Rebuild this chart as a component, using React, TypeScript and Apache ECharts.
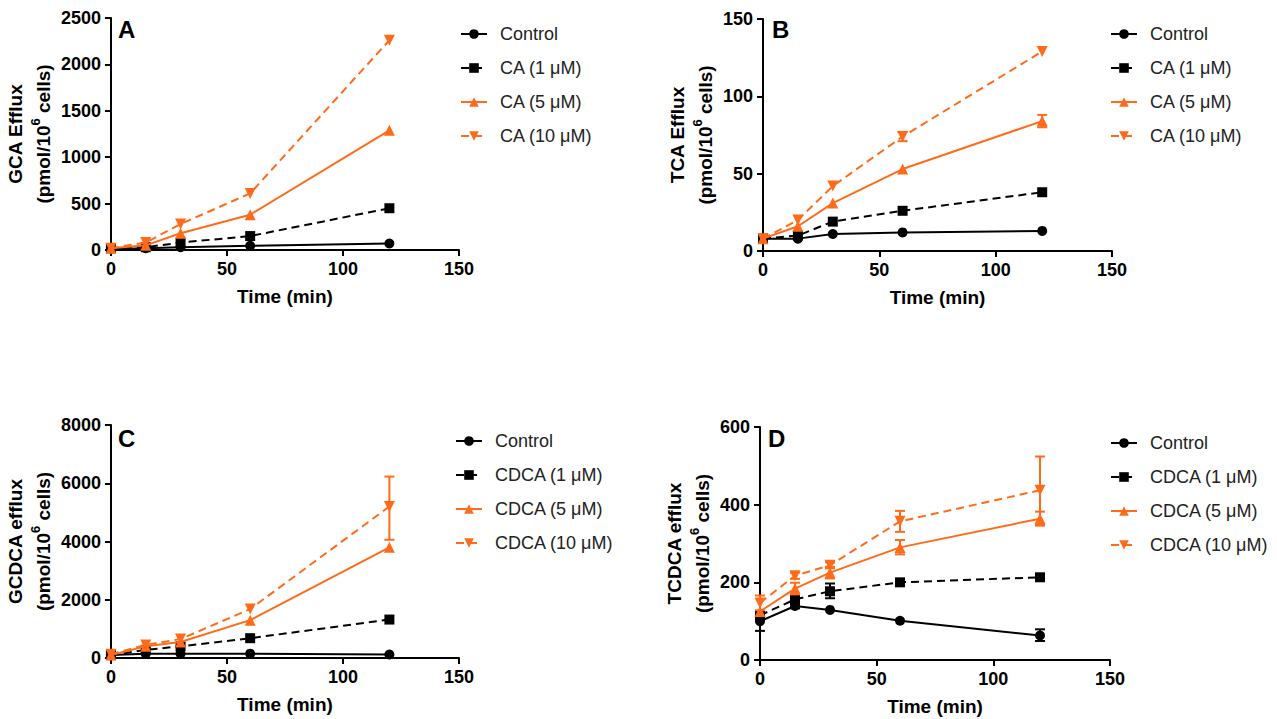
import React, { useEffect, useRef } from "react";
import * as echarts from "echarts";

const times = [0, 15, 30, 60, 120];
const xTicks = [0, 50, 100, 150];

// Panel A: GCA efflux
const gcaControl = [15, 20, 30, 45, 70];
const gcaCA1 = [20, 30, 80, 150, 450];
const gcaCA5 = [20, 50, 180, 380, 1290];
const gcaCA10 = [20, 80, 280, 610, 2260];

// Panel B: TCA efflux
const tcaControl = [8, 8, 11, 12, 13];
const tcaCA1 = [8, 10, 19, 26, 38];
const tcaCA5 = [8, 16, 31, 53, 84];
const tcaCA10 = [8, 20, 42, 74, 129];
const tcaErrCA5 = [[120, 80, 88]];
const tcaErrCA10 = [[60, 71, 77]];

// Panel C: GCDCA efflux
const gcdcaControl = [100, 150, 150, 150, 120];
const gcdcaCDCA1 = [100, 280, 400, 680, 1320];
const gcdcaCDCA5 = [100, 400, 550, 1300, 3800];
const gcdcaCDCA10 = [130, 450, 650, 1680, 5200];
const gcdcaErrCDCA10 = [[120, 4060, 6230]];

// Panel D: TCDCA efflux
const tcdcaControl = [100, 139, 129, 101, 63];
const tcdcaCDCA1 = [115, 156, 177, 200, 213];
const tcdcaCDCA5 = [125, 184, 225, 290, 364];
const tcdcaCDCA10 = [147, 217, 244, 357, 437];
const tcdcaErrControl = [[0, 75, 125], [15, 133, 145], [120, 49, 79]];
const tcdcaErrCDCA1 = [[0, 105, 125], [15, 148, 164], [30, 159, 197]];
const tcdcaErrCDCA5 = [[15, 169, 199], [30, 210, 240], [60, 272, 309], [120, 346, 382]];
const tcdcaErrCDCA10 = [[0, 128, 166], [15, 209, 225], [30, 236, 252], [60, 330, 384], [120, 350, 524]];

const caNames = ["Control", "CA (1 μM)", "CA (5 μM)", "CA (10 μM)"];
const cdcaNames = ["Control", "CDCA (1 μM)", "CDCA (5 μM)", "CDCA (10 μM)"];

const BLACK = "#000000";
const ORANGE = "#FF6B1A";
const FONT = "'Liberation Sans', Arial, sans-serif";

const styles = [
  { color: BLACK, symbol: "circle", rotate: 0, size: 10, dash: "solid" as any },
  { color: BLACK, symbol: "rect", rotate: 0, size: 10, dash: [8, 5] as any },
  { color: ORANGE, symbol: "triangle", rotate: 0, size: 11, dash: "solid" as any },
  { color: ORANGE, symbol: "triangle", rotate: 180, size: 11, dash: [8, 5] as any },
];

const panels = [
  {
    letter: "A", grid: { left: 110, top: 18, width: 349, height: 232 },
    yMax: 2500, yInt: 500, yName: "GCA Efflux", yGap: 47,
    names: caNames, series: [gcaControl, gcaCA1, gcaCA5, gcaCA10], errors: [[], [], [], []],
    legend: { left: 455, top: 24 }, letterPos: { x: 118, y: 17 },
  },
  {
    letter: "B", grid: { left: 763, top: 19, width: 349, height: 232 },
    yMax: 150, yInt: 50, yName: "TCA Efflux", yGap: 35,
    names: caNames, series: [tcaControl, tcaCA1, tcaCA5, tcaCA10], errors: [[], [], tcaErrCA5, tcaErrCA10],
    legend: { left: 1105, top: 24 }, letterPos: { x: 772, y: 17 },
  },
  {
    letter: "C", grid: { left: 110, top: 425, width: 349, height: 233 },
    yMax: 8000, yInt: 2000, yName: "GCDCA efflux", yGap: 47,
    names: cdcaNames, series: [gcdcaControl, gcdcaCDCA1, gcdcaCDCA5, gcdcaCDCA10], errors: [[], [], [], gcdcaErrCDCA10],
    legend: { left: 450, top: 431 }, letterPos: { x: 118, y: 426 },
  },
  {
    letter: "D", grid: { left: 760, top: 427, width: 350, height: 233 },
    yMax: 600, yInt: 200, yName: "TCDCA efflux", yGap: 34,
    names: cdcaNames, series: [tcdcaControl, tcdcaCDCA1, tcdcaCDCA5, tcdcaCDCA10],
    errors: [tcdcaErrControl, tcdcaErrCDCA1, tcdcaErrCDCA5, tcdcaErrCDCA10],
    legend: { left: 1105, top: 433 }, letterPos: { x: 768, y: 426 },
  },
];

function buildOption() {
  const grid: any[] = [];
  const xAxis: any[] = [];
  const yAxis: any[] = [];
  const legend: any[] = [];
  const series: any[] = [];
  const graphic: any[] = [];

  const axisCommon = {
    axisLine: { show: true, onZero: false, lineStyle: { color: BLACK, width: 2 } },
    axisTick: { show: true, inside: false, length: 6, lineStyle: { color: BLACK, width: 2 } },
    splitLine: { show: false },
  };
  const plain = (v: number) => String(v);

  panels.forEach((p, i) => {
    grid.push({ ...p.grid, containLabel: false });
    xAxis.push({
      type: "value", gridIndex: i, min: xTicks[0], max: xTicks[xTicks.length - 1], interval: 50,
      ...axisCommon,
      axisLabel: { color: BLACK, fontFamily: FONT, fontWeight: "bold", fontSize: 18, margin: 10, formatter: plain },
      name: "Time (min)", nameLocation: "middle", nameGap: 37,
      nameTextStyle: { color: BLACK, fontFamily: FONT, fontWeight: "bold", fontSize: 19 },
    });
    yAxis.push({
      type: "value", gridIndex: i, min: 0, max: p.yMax, interval: p.yInt,
      ...axisCommon,
      axisLabel: { color: BLACK, fontFamily: FONT, fontWeight: "bold", fontSize: 18, margin: 10, formatter: plain },
      name: p.yName + "\n(pmol/10{sup|6} cells)", nameLocation: "middle", nameRotate: 90, nameGap: p.yGap,
      nameTextStyle: {
        color: BLACK, fontFamily: FONT, fontWeight: "bold", fontSize: 19, lineHeight: 28,
        rich: { sup: { fontFamily: FONT, fontWeight: "bold", fontSize: 13, lineHeight: 28, verticalAlign: "top", padding: [0, 0, 10, 0] } },
      },
    });
    legend.push({
      orient: "vertical", left: p.legend.left, top: p.legend.top - 5,
      data: p.names, itemWidth: 26, itemHeight: 12, itemGap: 14,
      textStyle: { color: "#222", fontFamily: FONT, fontSize: 18, lineHeight: 20, padding: [0, 0, 0, 8] },
      selectedMode: false,
    });
    p.series.forEach((vals, k) => {
      const st = styles[k];
      series.push({
        type: "line", name: p.names[k], xAxisIndex: i, yAxisIndex: i,
        data: times.map((t, j) => [t, vals[j]]),
        symbol: st.symbol, symbolRotate: st.rotate, symbolSize: st.size, showSymbol: true,
        itemStyle: { color: st.color },
        lineStyle: { color: st.color, width: 2, type: st.dash },
        z: 3 + k,
      });
      if (p.errors[k].length) {
        series.push({
          type: "custom", xAxisIndex: i, yAxisIndex: i, silent: true, z: 3 + k,
          data: p.errors[k],
          encode: { x: 0, y: [1, 2] },
          renderItem: (params: any, api: any) => {
            const x = api.value(0);
            const lo = api.coord([x, api.value(1)]);
            const hi = api.coord([x, api.value(2)]);
            const hw = 5;
            const s = { stroke: st.color, lineWidth: 2 };
            return {
              type: "group",
              children: [
                { type: "line", shape: { x1: lo[0], y1: lo[1], x2: hi[0], y2: hi[1] }, style: s },
                { type: "line", shape: { x1: lo[0] - hw, y1: lo[1], x2: lo[0] + hw, y2: lo[1] }, style: s },
                { type: "line", shape: { x1: hi[0] - hw, y1: hi[1], x2: hi[0] + hw, y2: hi[1] }, style: s },
              ],
            };
          },
        });
      }
    });
    graphic.push({
      type: "text", left: p.letterPos.x, top: p.letterPos.y,
      style: { text: p.letter, fill: BLACK, font: `bold 24px ${FONT}` },
    });
  });

  return { animation: false, backgroundColor: "#ffffff", grid, xAxis, yAxis, legend, series, graphic };
}

export default function App() {
  const ref = useRef<HTMLDivElement>(null);
  useEffect(() => {
    if (!ref.current) return;
    const chart = echarts.init(ref.current, undefined, { renderer: "svg" });
    chart.setOption(buildOption() as any);
    return () => chart.dispose();
  }, []);
  return (
    <div
      ref={ref}
      style={{ position: "absolute", left: 0, top: 0, width: 1277, height: 719, background: "#fff" }}
    />
  );
}
